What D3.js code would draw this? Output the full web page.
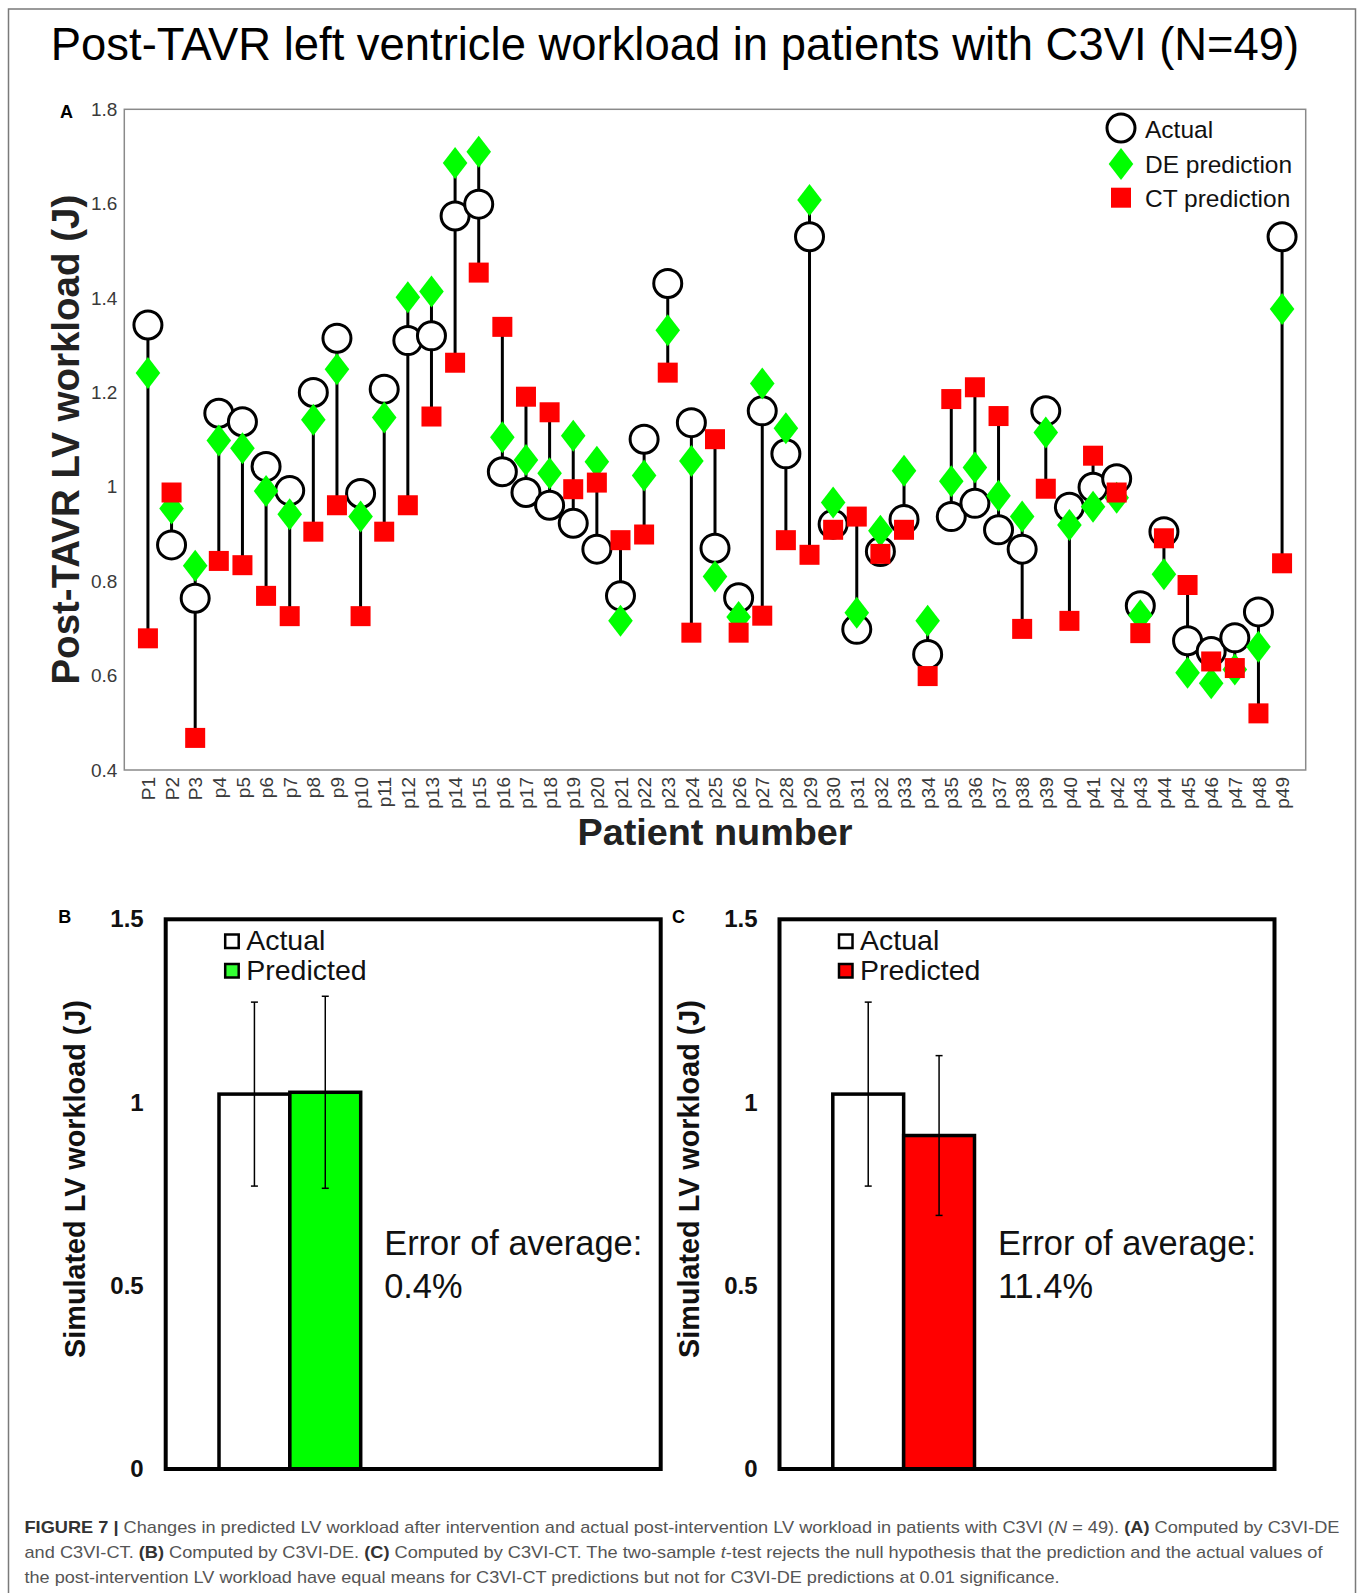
<!DOCTYPE html>
<html>

<head>
    <meta charset="UTF-8">
    <script src="https://d3js.org/d3.v7.min.js"></script>
    <style>
        body {
            margin: 0;
            background: #fff;
        }

        text {
            font-family: "Liberation Sans", Arial, sans-serif;
        }

        .tickA text {
            font-size: 19px;
            fill: #3a3a3a;
        }

        .tickBar text {
            font-size: 24px;
            font-weight: bold;
            fill: #111;
        }
    </style>
</head>

<body>
    <svg id="fig" width="1360" height="1593"></svg>

    <script>
        // ---- data ----
        let patients = ["P1", "P2", "P3", "p4", "p5", "p6", "p7", "p8", "p9", "p10",
            "p11", "p12", "p13", "p14", "p15", "p16", "p17", "p18", "p19", "p20",
            "p21", "p22", "p23", "p24", "p25", "p26", "p27", "p28", "p29", "p30",
            "p31", "p32", "p33", "p34", "p35", "p36", "p37", "p38", "p39", "p40",
            "p41", "p42", "p43", "p44", "p45", "p46", "p47", "p48", "p49"];

        let actual = [1.343, 0.877, 0.764, 1.156, 1.138, 1.043, 0.992, 1.200, 1.315, 0.986,
            1.207, 1.310, 1.320, 1.574, 1.599, 1.032, 0.988, 0.961, 0.923, 0.868,
            0.769, 1.101, 1.431, 1.136, 0.870, 0.765, 1.161, 1.070, 1.530, 0.921,
            0.698, 0.863, 0.931, 0.645, 0.937, 0.965, 0.909, 0.868, 1.161, 0.957,
            0.999, 1.017, 0.748, 0.905, 0.674, 0.651, 0.680, 0.735, 1.530];

        let dePred = [1.241, 0.954, 0.833, 1.098, 1.082, 0.991, 0.942, 1.142, 1.249, 0.937,
            1.147, 1.402, 1.414, 1.686, 1.710, 1.105, 1.057, 1.029, 1.108, 1.053,
            0.716, 1.024, 1.332, 1.055, 0.810, 0.724, 1.219, 1.124, 1.608, 0.967,
            0.733, 0.907, 1.034, 0.716, 1.012, 1.041, 0.981, 0.937, 1.115, 0.919,
            0.958, 0.977, 0.728, 0.815, 0.606, 0.584, 0.613, 0.661, 1.377];

        let ctPred = [0.679, 0.988, 0.468, 0.843, 0.834, 0.769, 0.726, 0.905, 0.961, 0.726,
            0.905, 0.961, 1.149, 1.263, 1.454, 1.339, 1.191, 1.158, 0.995, 1.009,
            0.887, 0.899, 1.242, 0.691, 1.101, 0.691, 0.727, 0.887, 0.856, 0.909,
            0.937, 0.858, 0.909, 0.599, 1.186, 1.211, 1.150, 0.699, 0.996, 0.716,
            1.066, 0.988, 0.690, 0.891, 0.792, 0.630, 0.616, 0.520, 0.838];

        let yTicksA = [0.4, 0.6, 0.8, 1.0, 1.2, 1.4, 1.6, 1.8];
        let legendA = ["Actual", "DE prediction", "CT prediction"];

        let barGroups = ["Actual", "Predicted"];
        let meanB = [1.023, 1.028];
        let sdB = [0.251, 0.262];
        let meanC = [1.023, 0.910];
        let sdC = [0.251, 0.218];
        let yTicksBar = [0, 0.5, 1, 1.5];
        let errorText = ["0.4%", "11.4%"];

        let svg = d3.select("#fig");

        // outer frame of the figure (open at the bottom)
        svg.append("path")
            .attr("d", "M8.5,1593 V9 H1355.5 V1593")
            .attr("fill", "none")
            .attr("stroke", "#7a7a7a")
            .attr("stroke-width", 1.5);

        svg.append("text")
            .attr("x", 675)
            .attr("y", 60)
            .attr("text-anchor", "middle")
            .attr("font-size", "45.4px")
            .attr("fill", "#000")
            .text("Post-TAVR left ventricle workload in patients with C3VI (N=49)");

        // ================= panel A =================
        let leftA = 124.3, rightA = 1305.7, topA = 109.3, bottomA = 770;

        let x = d3.scalePoint().domain(patients).range([leftA, rightA]).padding(1);
        let y = d3.scaleLinear().domain([0.4, 1.8]).range([bottomA, topA]);

        let rows = patients.map((p, i) => ({
            id: p, actual: actual[i], de: dePred[i], ct: ctPred[i]
        }));

        let gA = svg.append("g");

        gA.append("rect")
            .attr("x", leftA).attr("y", topA)
            .attr("width", rightA - leftA).attr("height", bottomA - topA)
            .attr("fill", "none")
            .attr("stroke", "#8a8a8a")
            .attr("stroke-width", 1.5);

        gA.append("g")
            .attr("class", "tickA")
            .attr("transform", "translate(" + leftA + ",0)")
            .call(d3.axisLeft(y).tickValues(yTicksA).tickSize(0).tickPadding(7).tickFormat(d3.format("~g")))
            .call(g => g.select(".domain").remove());

        gA.append("g")
            .attr("class", "tickA")
            .attr("transform", "translate(0," + bottomA + ")")
            .call(d3.axisBottom(x).tickSize(0).tickPadding(0))
            .call(g => g.select(".domain").remove())
            .selectAll("text")
            .attr("transform", "rotate(-90)")
            .attr("text-anchor", "end")
            .attr("x", -7)
            .attr("y", 0)
            .attr("dy", "0.35em")
            .attr("font-size", "18px");

        // stems
        gA.append("g")
            .selectAll("line")
            .data(rows)
            .enter().append("line")
            .attr("x1", d => x(d.id))
            .attr("x2", d => x(d.id))
            .attr("y1", d => y(Math.max(d.actual, d.de, d.ct)))
            .attr("y2", d => y(Math.min(d.actual, d.de, d.ct)))
            .attr("stroke", "#000")
            .attr("stroke-width", 3);

        let diamond = "M0,-16L12.3,0L0,16L-12.3,0Z";

        gA.append("g")
            .selectAll("circle")
            .data(rows)
            .enter().append("circle")
            .attr("cx", d => x(d.id))
            .attr("cy", d => y(d.actual))
            .attr("r", 14)
            .attr("fill", "#fff")
            .attr("stroke", "#000")
            .attr("stroke-width", 3);

        gA.append("g")
            .selectAll("path")
            .data(rows)
            .enter().append("path")
            .attr("d", diamond)
            .attr("transform", d => "translate(" + x(d.id) + "," + y(d.de) + ")")
            .attr("fill", "#00ff00");

        gA.append("g")
            .selectAll("rect")
            .data(rows)
            .enter().append("rect")
            .attr("x", d => x(d.id) - 10)
            .attr("y", d => y(d.ct) - 10)
            .attr("width", 20)
            .attr("height", 20)
            .attr("fill", "#ff0000");

        // legend
        let leg = gA.append("g").attr("transform", "translate(1121,128)");
        leg.append("circle").attr("r", 14).attr("fill", "#fff").attr("stroke", "#000").attr("stroke-width", 3);
        leg.append("path").attr("d", diamond).attr("transform", "translate(0,36)").attr("fill", "#00ff00");
        leg.append("rect").attr("x", -10).attr("y", 59.7).attr("width", 20).attr("height", 20).attr("fill", "#ff0000");
        leg.selectAll("text")
            .data(legendA)
            .enter().append("text")
            .attr("x", 24)
            .attr("y", (d, i) => 10.3 + i * 34.2)
            .attr("font-size", "24.5px")
            .attr("fill", "#111")
            .text(d => d);

        gA.append("text")
            .attr("x", 60).attr("y", 118)
            .attr("font-size", "18px").attr("font-weight", "bold")
            .text("A");

        gA.append("text")
            .attr("transform", "translate(79," + (topA + bottomA) / 2 + ") rotate(-90)")
            .attr("text-anchor", "middle")
            .attr("font-size", "38.5px")
            .attr("font-weight", "bold")
            .attr("fill", "#222")
            .text("Post-TAVR LV workload (J)");

        gA.append("text")
            .attr("x", (leftA + rightA) / 2).attr("y", 845)
            .attr("text-anchor", "middle")
            .attr("font-size", "37.8px")
            .attr("font-weight", "bold")
            .attr("fill", "#222")
            .text("Patient number");

        // ================= panels B and C =================
        function barPanel(x0, letter, means, sds, color, legColor, errLabel) {
            let w = 495, fTop = 919.3, fBottom = 1469;
            let g = svg.append("g");

            let yb = d3.scaleLinear().domain([0, 1.5]).range([fBottom, fTop]);
            let xb = d3.scaleBand().domain(barGroups).range([x0 + 53.3, x0 + 195]).padding(0);

            let data = barGroups.map((k, i) => ({ key: k, mean: means[i], sd: sds[i] }));

            g.selectAll(".bar")
                .data(data)
                .enter().append("rect")
                .attr("class", "bar")
                .attr("x", d => xb(d.key))
                .attr("y", d => yb(d.mean))
                .attr("width", xb.bandwidth())
                .attr("height", d => fBottom - yb(d.mean))
                .attr("fill", (d, i) => i === 0 ? "#fff" : color)
                .attr("stroke", "#000")
                .attr("stroke-width", 3.5);

            // error bars
            let eb = g.selectAll(".err")
                .data(data)
                .enter().append("g")
                .attr("class", "err")
                .attr("stroke", "#000")
                .attr("stroke-width", 1.5);
            eb.append("line")
                .attr("x1", d => xb(d.key) + xb.bandwidth() / 2)
                .attr("x2", d => xb(d.key) + xb.bandwidth() / 2)
                .attr("y1", d => yb(d.mean + d.sd))
                .attr("y2", d => yb(d.mean - d.sd));
            [1, -1].forEach(s => {
                eb.append("line")
                    .attr("x1", d => xb(d.key) + xb.bandwidth() / 2 - 3.5)
                    .attr("x2", d => xb(d.key) + xb.bandwidth() / 2 + 3.5)
                    .attr("y1", d => yb(d.mean + s * d.sd))
                    .attr("y2", d => yb(d.mean + s * d.sd));
            });

            g.append("rect")
                .attr("x", x0).attr("y", fTop)
                .attr("width", w).attr("height", fBottom - fTop)
                .attr("fill", "none")
                .attr("stroke", "#000")
                .attr("stroke-width", 4);

            g.append("g")
                .attr("class", "tickBar")
                .attr("transform", "translate(" + x0 + ",0)")
                .call(d3.axisLeft(yb).tickValues(yTicksBar).tickSize(0).tickPadding(22).tickFormat(d3.format("~g")))
                .call(a => a.select(".domain").remove());

            // legend
            barGroups.forEach((k, i) => {
                g.append("rect")
                    .attr("x", x0 + 59.5).attr("y", 934.5 + i * 29.5)
                    .attr("width", 13.5).attr("height", 13.5)
                    .attr("fill", i === 0 ? "#fff" : legColor)
                    .attr("stroke", "#000")
                    .attr("stroke-width", 2.5);
                g.append("text")
                    .attr("x", x0 + 80.5).attr("y", 950 + i * 29.5)
                    .attr("font-size", "28.5px")
                    .attr("fill", "#111")
                    .text(k);
            });

            g.append("text")
                .attr("x", x0 + 218.5).attr("y", 1255)
                .attr("font-size", "34.4px")
                .attr("fill", "#111")
                .text("Error of average:");
            g.append("text")
                .attr("x", x0 + 218.5).attr("y", 1298)
                .attr("font-size", "34.4px")
                .attr("fill", "#111")
                .text(errLabel);

            g.append("text")
                .attr("x", x0 - 107.5).attr("y", 923)
                .attr("font-size", "18px").attr("font-weight", "bold")
                .text(letter);

            g.append("text")
                .attr("transform", "translate(" + (x0 - 81) + ",1179) rotate(-90)")
                .attr("text-anchor", "middle")
                .attr("font-size", "28.8px")
                .attr("font-weight", "bold")
                .attr("fill", "#111")
                .text("Simulated LV workload (J)");
        }

        barPanel(165.7, "B", meanB, sdB, "#00ff00", "#33ff33", errorText[0]);
        barPanel(779.5, "C", meanC, sdC, "#ff0000", "#ff0000", errorText[1]);

        // ================= caption =================
        let caption = [
            [["FIGURE 7 | ", "b"], ["Changes in predicted LV workload after intervention and actual post-intervention LV workload in patients with C3VI (", ""], ["N", "i"], [" = 49). ", ""], ["(A)", "b"], [" Computed by C3VI-DE", ""]],
            [["and C3VI-CT. ", ""], ["(B)", "b"], [" Computed by C3VI-DE. ", ""], ["(C)", "b"], [" Computed by C3VI-CT. The two-sample ", ""], ["t", "i"], ["-test rejects the null hypothesis that the prediction and the actual values of", ""]],
            [["the post-intervention LV workload have equal means for C3VI-CT predictions but not for C3VI-DE predictions at 0.01 significance.", ""]]
        ];
        let capWidth = [1315, 1298, 1035];

        caption.forEach((line, i) => {
            let t = svg.append("text")
                .attr("x", 24.5)
                .attr("y", 1533 + i * 25)
                .attr("font-size", "17px")
                .attr("fill", "#555")
                .attr("textLength", capWidth[i])
                .attr("lengthAdjust", "spacingAndGlyphs");
            line.forEach(part => {
                t.append("tspan")
                    .attr("font-weight", part[1] === "b" ? "bold" : null)
                    .attr("font-style", part[1] === "i" ? "italic" : null)
                    .attr("fill", part[1] === "b" ? "#333" : null)
                    .text(part[0]);
            });
        });
    </script>
</body>

</html>
